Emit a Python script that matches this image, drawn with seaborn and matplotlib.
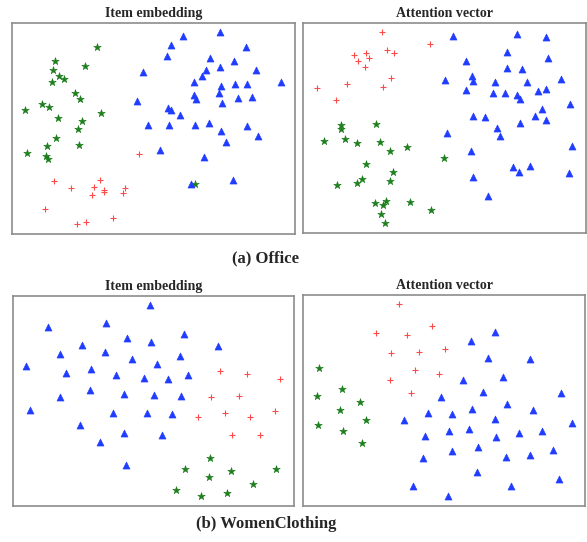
import matplotlib
matplotlib.use("Agg")
import matplotlib.pyplot as plt
import seaborn as sns
import pandas as pd

# ---- data (t-SNE coordinates, arbitrary units, y grows downward) ----
office_item_star = [(292,142),(167,183),(255,200),(161,212),(178,229),(193,238),(157,248),(226,281),
                    (240,299),(128,313),(149,322),(76,330),(305,341),(175,354),(248,363),(236,387),
                    (170,416),(238,435),(142,440),(83,461),(140,468),(146,478),(585,552)]
office_item_plus = [(418,463),(163,545),(300,540),(215,565),(284,562),(313,570),(313,578),(376,566),
                    (371,581),(277,587),(137,627),(341,654),(259,666),(233,673)]
office_item_tri = [(659,98),(548,110),(512,136),(738,141),(500,169),(630,175),(702,183),(429,216),
                   (618,212),(659,202),(768,211),(606,230),(582,247),(843,246),(662,259),(705,252),
                   (742,252),(656,280),(581,286),(589,299),(715,294),(755,292),(665,311),(412,305),
                   (503,324),(514,332),(540,345),(446,377),(506,377),(586,377),(627,369),(741,378),
                   (662,394),(773,408),(678,427),(479,451),(612,472),(700,540),(574,554)]

office_att_plus = [(261,96),(407,130),(276,148),(298,159),(177,164),(214,158),(222,172),(190,183),
                   (212,199),(289,234),(156,251),(264,262),(66,264),(125,300)]
office_att_star = [(138,375),(140,388),(245,373),(88,423),(151,416),(186,430),(257,425),(337,440),
                   (286,454),(448,474),(215,492),(296,517),(203,536),(285,543),(187,551),(128,556),
                   (240,609),(273,604),(266,616),(345,607),(410,631),(258,644),(272,671)]
office_att_tri = [(476,106),(667,100),(756,109),(638,156),(514,181),(761,172),(639,202),(683,206),
                  (451,240),(532,228),(537,244),(602,245),(698,245),(801,236),(515,271),(597,280),
                  (632,279),(668,286),(678,296),(730,272),(756,266),(826,312),(742,326),(536,348),
                  (573,351),(722,347),(756,361),(677,369),(609,383),(617,408),(458,400),(531,454),
                  (833,439),(657,500),(674,515),(708,499),(824,519),(536,532),(580,588)]

women_item_tri = [(450,104),(143,170),(317,158),(381,203),(452,216),(553,192),(244,225),(179,252),
                  (315,247),(395,268),(471,281),(539,259),(655,227),(77,288),(198,309),(272,298),
                  (348,314),(431,323),(504,328),(565,314),(179,380),(269,360),(371,372),(463,375),
                  (543,377),(90,420),(339,430),(441,429),(516,432),(238,466),(371,490),(485,494),
                  (301,516),(379,586)]
women_item_plus = [(660,304),(741,313),(842,326),(633,380),(719,379),(594,440),(677,430),(752,442),
                   (826,423),(696,494),(781,494)]
women_item_star = [(631,565),(555,597),(694,603),(829,598),(626,622),(759,642),(529,661),(682,670),
                   (604,679)]

women_att_plus = [(312,103),(411,169),(243,189),(336,195),(451,237),(288,248),(373,247),(361,301),
                  (433,311),(286,331),(349,369)]
women_att_star = [(74,293),(141,358),(66,379),(195,395),(135,420),(215,451),(70,464),(144,484),
                  (203,519)]
women_att_tri = [(599,186),(528,212),(580,264),(704,268),(624,320),(503,329),(440,382),(565,366),
                 (799,368),(637,402),(531,416),(713,419),(401,429),(471,431),(599,446),(328,451),
                 (830,460),(461,484),(523,477),(602,502),(673,489),(741,482),(391,498),(470,544),
                 (548,531),(386,565),(633,560),(704,554),(775,540),(546,606),(793,628),(354,649),
                 (647,649),(460,677)]

titles = ["Item embedding", "Attention vector"]
captions = ["(a) Office", "(b) WomenClothing"]

# ---- styling ----
sns.set_style("white")
plt.rcParams["font.family"] = ["Liberation Serif", "DejaVu Serif"]

BLUE = "#1f3cff"
GREEN = "#1d7f1d"
RED = "#ff4a4a"

fig = plt.figure(figsize=(5.87, 5.42), dpi=100)
W, H = 587, 542

def add_axes(x0, y0, x1, y1):
    return fig.add_axes([x0 / W, 1 - y1 / H, (x1 - x0) / W, (y1 - y0) / H])

panels = [
    (add_axes(12, 23, 295, 234), (37, 885, 703, 70), office_item_star, office_item_plus, office_item_tri, titles[0]),
    (add_axes(303, 23, 586, 233), (25, 875, 700, 68), office_att_star, office_att_plus, office_att_tri, titles[1]),
    (add_axes(13, 296, 294, 506), (38, 883, 708, 78), women_item_star, women_item_plus, women_item_tri, titles[0]),
    (add_axes(303, 295, 585, 506), (25, 870, 708, 75), women_att_star, women_att_plus, women_att_tri, titles[1]),
]

for ax, lims, stars, pluses, tris, title in panels:
    ds = pd.DataFrame(stars, columns=["x", "y"])
    dp = pd.DataFrame(pluses, columns=["x", "y"])
    dt = pd.DataFrame(tris, columns=["x", "y"])
    sns.scatterplot(data=ds, x="x", y="y", ax=ax, marker="*", s=32, color=GREEN,
                    edgecolor=GREEN, linewidth=0.4, legend=False, zorder=2)
    sns.scatterplot(data=dt, x="x", y="y", ax=ax, marker="^", s=26, color=BLUE,
                    edgecolor=BLUE, linewidth=0.4, legend=False, zorder=3)
    sns.scatterplot(data=dp, x="x", y="y", ax=ax, marker="+", s=22, color=RED,
                    linewidth=0.8, legend=False, zorder=4)
    ax.set_xlim(lims[0], lims[1])
    ax.set_ylim(lims[2], lims[3])
    ax.set_xticks([])
    ax.set_yticks([])
    ax.set_xlabel("")
    ax.set_ylabel("")
    for sp in ax.spines.values():
        sp.set_color("#8c8c8c")
        sp.set_linewidth(1.2)
    ax.set_title(title, fontsize=10, fontweight="bold", pad=4)

fig.text(266 / W, 1 - 258 / H, captions[0], ha="center", va="center", fontsize=12, fontweight="bold")
fig.text(266 / W, 1 - 524 / H, captions[1], ha="center", va="center", fontsize=12, fontweight="bold")

fig.savefig("out.png", dpi=100)
